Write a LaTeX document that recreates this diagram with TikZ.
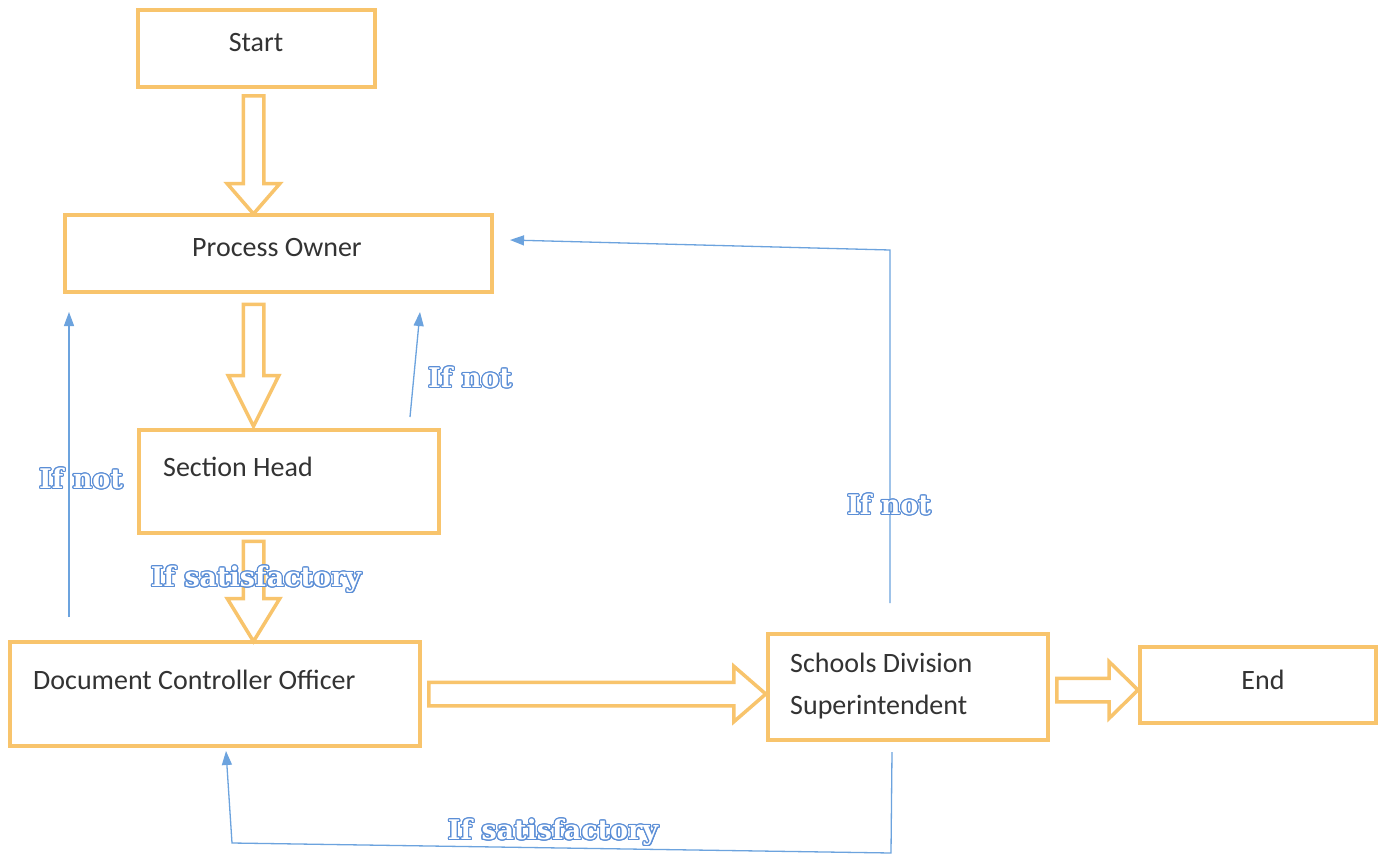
\documentclass[tikz,border=0pt]{standalone}
\usepackage{fontspec}
\setmainfont{Carlito}
\newfontfamily\lblfont{DejaVu Serif}
\usepackage{contour}
\contourlength{1.2pt}
\usetikzlibrary{shapes.arrows,arrows.meta}
\definecolor{boxorange}{HTML}{F8C46C}
\definecolor{lineblue}{HTML}{6CA3DE}
\definecolor{lblblue}{HTML}{5B8ED6}
\definecolor{textgray}{HTML}{333333}
\tikzset{
  box/.style={draw=boxorange, line width=4pt, inner sep=0pt},
  flow/.style={single arrow, draw=boxorange, line width=3.5pt, inner xsep=0pt},
  txt/.style={font=\fontsize{28}{42}\selectfont, text=textgray, inner sep=0pt},
  back/.style={draw=lineblue, line width=1.3pt, -{Triangle[width=10pt,length=14pt]}},
  lbl/.style={font=\lblfont\bfseries\fontsize{27}{32}\selectfont, inner sep=0pt}
}
\begin{document}
\begin{tikzpicture}[x=1pt,y=-1pt]
\useasboundingbox[fill=white] (0,0) rectangle (1385,854);
% boxes
\node[box, minimum width=237pt, minimum height=77pt] (start) at (256.5,48.5) {};
\node[txt] (tstart) at (256,43) {Start};
\node[box, minimum width=427pt, minimum height=77pt] (po) at (278.5,253.5) {};
\node[txt] (tpo) at (277,248) {Process Owner};
\node[box, minimum width=300pt, minimum height=103pt] (sh) at (289,481.5) {};
\node[txt, anchor=west] (tsh) at (163,467) {Section Head};
\node[box, minimum width=410pt, minimum height=104pt] (dco) at (215,694) {};
\node[txt, anchor=west] (tdco) at (33,680) {Document Controller Officer};
\node[box, minimum width=280pt, minimum height=106pt] (sds) at (908,687) {};
\node[txt, anchor=west, align=left] (tsds) at (790,686) {Schools Division\\Superintendent};
\node[box, minimum width=236pt, minimum height=76pt] (end) at (1258,685) {};
\node[txt] (tend) at (1263,680) {End};
% block arrows
\node[flow, rotate=-90, inner ysep=8.5pt, minimum height=118pt, single arrow head extend=16pt, single arrow tip angle=82] (a1) at (253.5,149) {};
\node[flow, rotate=-90, inner ysep=8.5pt, minimum height=122pt, single arrow head extend=15pt, single arrow tip angle=53] (a2) at (253.5,355) {};
\node[flow, rotate=-90, inner ysep=8.5pt, minimum height=100pt, single arrow head extend=16pt, single arrow tip angle=63] (a3) at (253.5,583) {};
\node[flow, inner ysep=10pt, minimum height=337pt, single arrow head extend=16pt, single arrow tip angle=82] (a4) at (590.5,694) {};
\node[flow, inner ysep=10pt, minimum height=81pt, single arrow head extend=16.5pt, single arrow tip angle=89] (a5) at (1091.5,690) {};
% feedback lines
\coordinate (l1a) at (69,617); \coordinate (l1b) at (69,312);
\draw[back] (l1a) -- (l1b);
\coordinate (l2a) at (410,417); \coordinate (l2b) at (420,312);
\draw[back] (l2a) -- (l2b);
\coordinate (l3a) at (890,603); \coordinate (l3c) at (890,250); \coordinate (l3b) at (510,240);
\draw[back] (l3a) -- (l3c) -- (l3b);
\coordinate (l4a) at (892,752); \coordinate (l4c) at (891,853); \coordinate (l4d) at (232,843); \coordinate (l4b) at (226,751);
\draw[back] (l4a) -- (l4c) -- (l4d) -- (l4b);
% labels
\node[lbl] (n1) at (81,479) {\contour{lblblue}{\textcolor{white}{If not}}};
\node[lbl] (n2) at (470,378) {\contour{lblblue}{\textcolor{white}{If not}}};
\node[lbl] (n3) at (256,580) {\contour{lblblue}{\textcolor{white}{If satisfactory}}};
\node[lbl] (n4) at (889,505) {\contour{lblblue}{\textcolor{white}{If not}}};
\node[lbl] (n5) at (553,833) {\contour{lblblue}{\textcolor{white}{If satisfactory}}};
\end{tikzpicture}
\end{document}
